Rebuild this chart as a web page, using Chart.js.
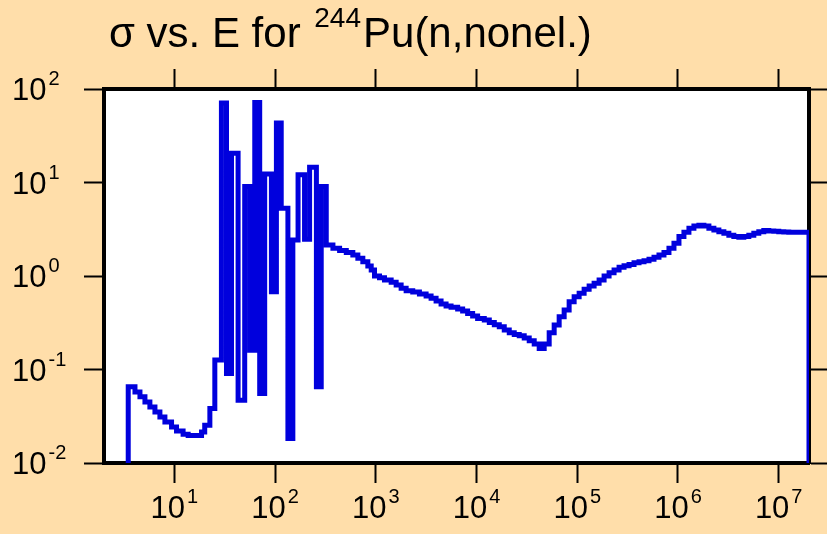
<!DOCTYPE html>
<html><head><meta charset="utf-8">
<script src="https://cdn.jsdelivr.net/npm/chart.js@4.4.1/dist/chart.umd.min.js"></script>
<style>
html,body{margin:0;padding:0;background:#FFDEAA;}
#wrap{width:827px;height:534px;position:relative;}
</style></head><body>
<div id="wrap"><canvas id="c"></canvas></div>
<script>
// Bin left edges (eV) and cross sections (b)
const energies = [3.48, 3.48, 4.06, 4.55, 5.10, 5.71, 6.41, 7.18, 8.05, 9.37, 10.5, 12.2, 13.7, 18.6, 20.0, 22.5, 25.2,
  29.3, 32.9, 36.9, 42.9, 49.9, 56.0, 62.8, 70.3, 78.8, 91.9, 103, 115, 134, 150, 169, 196, 220, 257, 287, 322,
  375, 437, 509, 591, 663, 743, 833, 900, 970, 1088, 1219, 1420, 1592, 1784, 2000, 2326, 2710, 3157, 3538, 3966,
  4445, 4983, 5586, 6494, 7278, 8158, 9146, 10250, 11940, 13390, 15010, 16820, 18850, 21130, 23680, 26550, 29750,
  33350, 37380, 41900, 46960, 52640, 59000, 66130, 74130, 83070, 93130, 1.044e5, 1.17e5, 1.312e5, 1.47e5, 1.648e5,
  1.847e5, 2.07e5, 2.32e5, 2.601e5, 2.915e5, 3.268e5, 3.662e5, 4.105e5, 4.602e5, 5.157e5, 5.781e5, 6.479e5,
  7.262e5, 8.139e5, 9.125e5, 1.023e6, 1.146e6, 1.285e6, 1.44e6, 1.614e6, 1.809e6, 2.028e6, 2.273e6, 2.548e6,
  2.856e6, 3.201e6, 3.587e6, 4.021e6, 4.508e6, 5.052e6, 5.664e6, 6.348e6, 7.115e6, 7.975e6, 8.94e6, 1.002e7,
  1.123e7, 1.259e7, 1.411e7, 1.582e7, 2e7, 2e7];
const sigmas = [0.001, 0.0652, 0.0576, 0.0510, 0.0450, 0.0398, 0.0352, 0.0311, 0.0275, 0.0243, 0.0220, 0.0203, 0.0197, 0.0215, 0.0254, 0.0383, 0.126,
  70.8, 0.0908, 20.6, 0.0470, 9.05, 0.161, 71.9, 0.0554, 12.3, 0.679, 43.2, 5.31, 0.0183, 2.43, 12.1, 2.47, 14.6, 0.0652, 9.05, 2.15,
  1.98, 1.87, 1.78, 1.68, 1.55, 1.42, 1.28, 1.16, 1.00, 0.959, 0.906, 0.856, 0.801, 0.738, 0.696, 0.674, 0.642, 0.611, 0.577, 0.540,
  0.501, 0.477, 0.462, 0.443, 0.422, 0.398, 0.373, 0.352, 0.338, 0.319, 0.301, 0.286, 0.264, 0.247, 0.237, 0.229, 0.217,
  0.203, 0.187, 0.168, 0.187, 0.247, 0.299, 0.366, 0.432, 0.531, 0.600, 0.653, 0.721, 0.781, 0.835, 0.906,
  1.00, 1.085, 1.16, 1.24, 1.29, 1.33, 1.39, 1.42, 1.46, 1.51, 1.59, 1.68,
  1.78, 1.98, 2.24, 2.64, 2.94, 3.24, 3.43, 3.49, 3.43, 3.24, 3.11, 2.98,
  2.87, 2.73, 2.64, 2.60, 2.64, 2.73, 2.87, 2.98, 3.06, 3.03, 3.01, 2.98,
  2.96, 2.94, 2.94, 2.94, 2.94, 0.001];
const xTickValues = [10, 100, 1e3, 1e4, 1e5, 1e6, 1e7];
const yTickValues = [0.01, 0.1, 1, 10, 100];
const xRange = [2, 2e7];
const yRange = [0.01, 100];
const titlePart1 = 'σ vs. E for ';
const titleSup = '244';
const titlePart2 = 'Pu(n,nonel.)';

const FONT = '"Liberation Sans", Arial, Helvetica, sans-serif';
const BG = '#FFDEAA';

const points = energies.map((e, i) => ({x: e, y: sigmas[i]}));

function axis(pos, range, ticksArr, size, isX) {
  return {
    type: 'logarithmic', position: pos, min: range[0], max: range[1],
    afterBuildTicks: s => { s.ticks = ticksArr.map(v => ({value: v})); },
    ticks: {display: false},
    grid: {display: true, drawOnChartArea: false, drawTicks: true, tickLength: 20, tickWidth: 2, tickColor: '#000'},
    border: {display: true, color: '#000', width: 4},
    afterFit: s => { if (isX) s.height = size; else s.width = size; }
  };
}

const bgPlugin = {
  id: 'bg',
  beforeDraw(chart) {
    const {ctx, chartArea: a} = chart;
    ctx.save();
    ctx.fillStyle = BG;
    ctx.fillRect(0, 0, chart.width, chart.height);
    ctx.fillStyle = '#fff';
    ctx.fillRect(a.left, a.top, a.right - a.left, a.bottom - a.top);
    ctx.restore();
  }
};

const textPlugin = {
  id: 'texts',
  afterDraw(chart) {
    const ctx = chart.ctx;
    ctx.save();
    ctx.fillStyle = '#000';
    ctx.textBaseline = 'alphabetic';
    ctx.textAlign = 'left';
    const big = '31px ' + FONT, small = '20px ' + FONT;
    const xs = chart.scales.x;
    xs.ticks.forEach(t => {
      const px = xs.getPixelForValue(t.value);
      const e = String(Math.round(Math.log10(t.value)));
      ctx.font = big; const w1 = ctx.measureText('10').width;
      ctx.font = small; const w2 = ctx.measureText(e).width;
      const x0 = px - (w1 + 2 + w2) / 2;
      ctx.font = big; ctx.fillText('10', x0, 518);
      ctx.font = small; ctx.fillText(e, x0 + w1 + 2, 503);
    });
    const ys = chart.scales.y;
    ys.ticks.forEach(t => {
      const py = ys.getPixelForValue(t.value);
      const e = String(Math.round(Math.log10(t.value)));
      ctx.font = big; const w1 = ctx.measureText('10').width;
      ctx.fillText('10', 12, py + 11);
      ctx.font = small; ctx.fillText(e, 12 + w1 + 2, py - 4);
    });
    // title
    const tBig = '42px ' + FONT, tSmall = '28px ' + FONT;
    let x = 109;
    ctx.font = tBig; ctx.fillText(titlePart1, x, 47); x += ctx.measureText(titlePart1).width + 2;
    ctx.font = tSmall; ctx.fillText(titleSup, x, 27); x += ctx.measureText(titleSup).width + 2;
    ctx.font = tBig; ctx.fillText(titlePart2, x, 47);
    ctx.restore();
  }
};

new Chart(document.getElementById('c'), {
  type: 'line',
  data: {datasets: [{
    data: points,
    stepped: 'before',
    borderColor: '#0000DD',
    borderWidth: 5,
    borderJoinStyle: 'miter',
    borderCapStyle: 'butt',
    pointRadius: 0,
    fill: false,
    tension: 0
  }]},
  options: {
    responsive: true, maintainAspectRatio: false, animation: false,
    layout: {padding: 0},
    plugins: {legend: {display: false}, tooltip: {enabled: false}, title: {display: false}},
    scales: {
      x: axis('bottom', xRange, xTickValues, 71, true),
      x2: axis('top', xRange, xTickValues, 89, true),
      y: axis('left', yRange, yTickValues, 104, false),
      y2: axis('right', yRange, yTickValues, 18, false)
    }
  },
  plugins: [bgPlugin, textPlugin]
});
</script>
</body></html>
